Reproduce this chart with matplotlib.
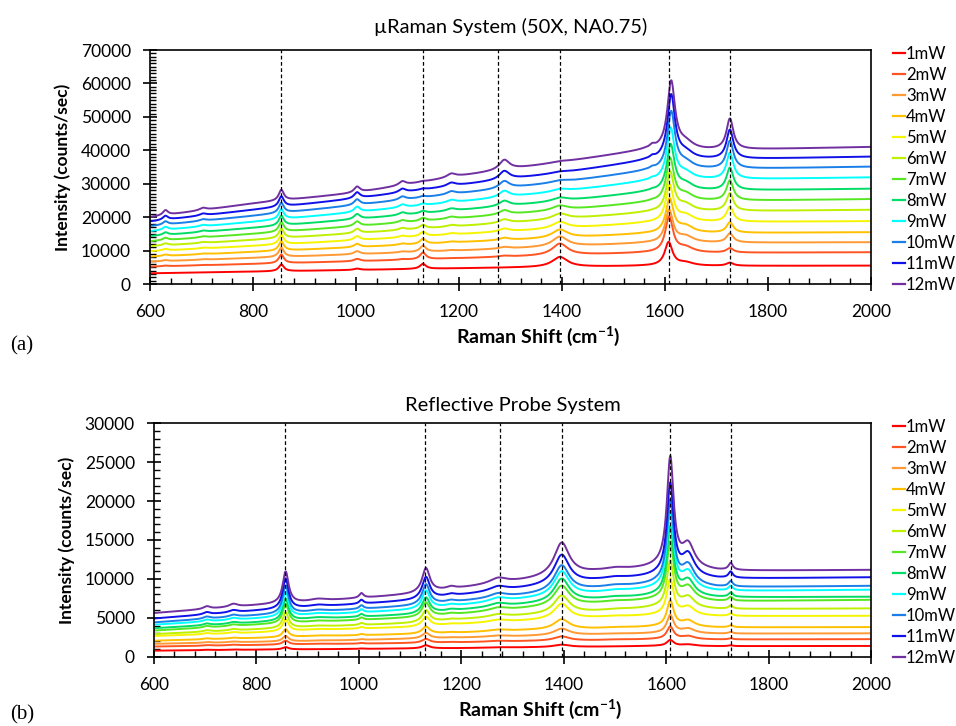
import numpy as np
import matplotlib
matplotlib.use("Agg")
import matplotlib.pyplot as plt
from matplotlib.ticker import MultipleLocator

plt.rcParams['font.family'] = ['Lato', 'DejaVu Sans']
plt.rcParams['mathtext.fontset'] = 'custom'
plt.rcParams['mathtext.rm'] = 'Lato:bold'
plt.rcParams['mathtext.bf'] = 'Lato:bold'

# ---------------- data ----------------
powers = ["1mW", "2mW", "3mW", "4mW", "5mW", "6mW", "7mW", "8mW", "9mW", "10mW", "11mW", "12mW"]
colors = ["#ff0000", "#ff5522", "#ff9933", "#ffc000", "#f5f500", "#bff000",
          "#55e822", "#00dd66", "#00ffff", "#1a7fe8", "#1010e8", "#7030a0"]
marker_lines = [855, 1130, 1275, 1396, 1608, 1726]

# (a) uRaman system -- baseline anchors (cm-1) and per-series baseline values
a_base_x = [600, 800, 1000, 1200, 1400, 1560, 1680, 2000]
a_base = [
    [3200, 3700, 4200, 4700, 5100, 5400, 5400, 5500],
    [5200, 6000, 6800, 7700, 8600, 9300, 9300, 9500],
    [6700, 7800, 8900, 10000, 11200, 12200, 12300, 12500],
    [8200, 9600, 11000, 12500, 13800, 15000, 15200, 15500],
    [9800, 11400, 13100, 14900, 16600, 18200, 18500, 18800],
    [11300, 13200, 15200, 17300, 19400, 21300, 21700, 22200],
    [12800, 15000, 17300, 19700, 22100, 24300, 24800, 25400],
    [14300, 16800, 19400, 22100, 24800, 27400, 27900, 28500],
    [15800, 18600, 21500, 24600, 27700, 30600, 31200, 31900],
    [17300, 20400, 23600, 27100, 30500, 33700, 34300, 35100],
    [18700, 22200, 25600, 29600, 33300, 36800, 37200, 38100],
    [20000, 24100, 27300, 32300, 36500, 40000, 40000, 41000],
]
# peaks: centre, half width, heights per series (1mW..12mW)
a_peak_pos = [630, 703, 855, 1002, 1090, 1130, 1185, 1288, 1396, 1575, 1640, 1726]
a_peak_hw = [6, 8, 6, 7, 8, 7, 10, 12, 18, 6, 18, 8]
a_peak_h = [
    [0, 200, 300, 400, 500, 600, 700, 800, 900, 1000, 1200, 1500],
    [0, 100, 150, 200, 250, 300, 350, 400, 450, 500, 600, 700],
    [2000, 2600, 2800, 2800, 2800, 2800, 2900, 2900, 3000, 3000, 3100, 3200],
    [400, 700, 900, 1000, 1200, 1300, 1400, 1500, 1600, 1700, 1800, 1800],
    [0, 200, 300, 400, 500, 600, 700, 800, 900, 1000, 1100, 1200],
    [1500, 2000, 1800, 1500, 1300, 1100, 900, 700, 500, 400, 300, 200],
    [0, 100, 200, 300, 400, 500, 600, 700, 800, 900, 1000, 1100],
    [0, 300, 500, 700, 900, 1100, 1300, 1600, 1900, 2200, 2600, 3000],
    [3000, 3500, 3000, 2500, 2000, 1700, 1400, 1100, 800, 600, 400, 300],
    [0, 0, 0, 0, 0, 100, 200, 300, 400, 500, 700, 900],
    [900, 1500, 1800, 2000, 2000, 2000, 2000, 2000, 2000, 2000, 2000, 2000],
    [900, 1300, 2700, 3100, 4500, 5300, 6000, 6700, 7800, 8300, 8700, 9200],
]
a_main_pos = [1607, 1608, 1608, 1609, 1609, 1610, 1610, 1611, 1611, 1612, 1612, 1612]
a_main_h = [7000, 10600, 9600, 10100, 10900, 11700, 12700, 13700, 15400, 17200, 19200, 20300]
a_main_hw = 9

# (b) reflective probe system
b_base_x = [600, 800, 900, 1100, 1200, 1330, 1460, 1580, 1700, 2000]
b_base = [
    [770, 900, 950, 1050, 1100, 1200, 1280, 1380, 1350, 1380],
    [1300, 1500, 1600, 1750, 1850, 2000, 2100, 2250, 2200, 2250],
    [1650, 1900, 2000, 2300, 2450, 2650, 2850, 3000, 2950, 3000],
    [2050, 2400, 2600, 2900, 3100, 3400, 3600, 3850, 3750, 3800],
    [2650, 3100, 3400, 3800, 4200, 4600, 5000, 5300, 5200, 5250],
    [2900, 3500, 3800, 4300, 4800, 5300, 5800, 6300, 6100, 6200],
    [3350, 4100, 4400, 5000, 5500, 6200, 6800, 7300, 7100, 7300],
    [3650, 4400, 4800, 5400, 6000, 6700, 7300, 7800, 7600, 7700],
    [4100, 4900, 5300, 6000, 6600, 7400, 8100, 8700, 8400, 8600],
    [4400, 5300, 5700, 6500, 7100, 7900, 8700, 9300, 8900, 9100],
    [4900, 5900, 6300, 7200, 7900, 8800, 9700, 10300, 10000, 10200],
    [5600, 6600, 7000, 8000, 8800, 9800, 10800, 11400, 11000, 11150],
]
b_peak_pos = [703, 755, 857, 920, 1005, 1131, 1180, 1272, 1396, 1500, 1608, 1643, 1726]
b_peak_hw = [8, 10, 7, 20, 5, 9, 10, 20, 18, 25, 8, 15, 5]
b_peak_h = [
    [50, 80, 100, 120, 150, 180, 200, 220, 250, 280, 300, 350],
    [50, 80, 100, 120, 150, 180, 200, 220, 250, 280, 300, 400],
    [300, 500, 700, 1000, 1500, 2000, 2500, 2800, 3200, 3600, 3900, 4100],
    [0, 50, 50, 80, 100, 120, 150, 180, 200, 220, 250, 300],
    [50, 80, 100, 150, 200, 250, 300, 350, 400, 450, 500, 600],
    [400, 500, 700, 900, 1200, 1500, 1800, 2000, 2300, 2600, 2800, 3100],
    [0, 50, 50, 80, 100, 120, 150, 180, 200, 220, 250, 300],
    [50, 100, 150, 200, 300, 350, 400, 450, 500, 550, 600, 700],
    [300, 550, 850, 1300, 2000, 2300, 2600, 3000, 3200, 3400, 3800, 4300],
    [0, 50, 50, 80, 100, 120, 150, 180, 200, 220, 250, 300],
    [750, 1600, 2300, 3300, 4600, 5900, 7300, 8700, 9700, 10600, 11700, 14000],
    [200, 400, 600, 800, 1100, 1400, 1700, 2000, 2200, 2500, 2800, 3000],
    [100, 150, 200, 250, 300, 400, 500, 550, 600, 700, 800, 900],
]

x = np.linspace(600, 2000, 2801)


def lor(x0, g):
    return g * g / ((x - x0) ** 2 + g * g)


def spectrum_a(i):
    y = np.interp(x, a_base_x, a_base[i])
    for p, g, h in zip(a_peak_pos, a_peak_hw, a_peak_h):
        y = y + h[i] * lor(p, g)
    y = y + a_main_h[i] * lor(a_main_pos[i], a_main_hw)
    return y


def spectrum_b(i):
    y = np.interp(x, b_base_x, b_base[i])
    for p, g, h in zip(b_peak_pos, b_peak_hw, b_peak_h):
        y = y + h[i] * lor(p, g)
    return y


# ---------------- figure ----------------
fig = plt.figure(figsize=(9.56, 7.26), dpi=100)
axA = fig.add_axes([0.1569, 0.6088, 0.7542, 0.3223])
axB = fig.add_axes([0.1611, 0.0955, 0.7500, 0.3214])

FS = 12.5


def style(ax, ymax, ystep, xlab_y):
    ax.set_xlim(600, 2000)
    ax.set_ylim(0, ymax)
    ax.xaxis.set_major_locator(MultipleLocator(200))
    ax.xaxis.set_minor_locator(MultipleLocator(40))
    ax.yaxis.set_major_locator(MultipleLocator(ystep))
    ax.yaxis.set_minor_locator(MultipleLocator(1000))
    ax.tick_params(axis='both', which='major', direction='inout', length=9.5, width=1.2,
                   labelsize=FS, top=False, right=False)
    ax.tick_params(axis='both', which='minor', direction='in', length=4.5, width=1.0,
                   top=False, right=False)
    ax.tick_params(axis='x', which='major', pad=10)
    ax.tick_params(axis='y', which='major', pad=9)
    for s in ax.spines.values():
        s.set_linewidth(1.2)
    ax.set_ylabel("Intensity (counts/sec)", fontsize=FS, fontweight='bold', labelpad=7)
    ax.set_xlabel(r"Raman Shift (cm$^{\mathbf{-1}}$)", fontsize=14, fontweight='bold')
    ax.xaxis.set_label_coords(0.538, xlab_y)
    for xv in marker_lines:
        ax.axvline(xv, color='black', lw=0.9, ls=(0, (3, 2)), zorder=5)


for i in range(12):
    axA.plot(x, spectrum_a(i), color=colors[i], lw=1.4, label=powers[i])
    axB.plot(x, spectrum_b(i), color=colors[i], lw=1.4, label=powers[i])

style(axA, 70000, 10000, -0.17)
style(axB, 30000, 5000, -0.175)

axA.set_title("µRaman System (50X, NA0.75)", fontsize=14.5, pad=12)
axB.set_title("Reflective Probe System", fontsize=14.5, pad=9)

for ax, top in ((axA, 0.937), (axB, 0.4225)):
    leg = ax.legend(loc='upper left', bbox_to_anchor=(0.934, top),
                    bbox_transform=fig.transFigure, frameon=False,
                    fontsize=12, handlelength=0.7, handletextpad=0.08,
                    labelspacing=0.30, borderpad=0, borderaxespad=0)
    for ln in leg.get_lines():
        ln.set_linewidth(1.6)

fig.text(0.011, 1 - 350 / 726, "(a)", fontsize=15, family='Liberation Serif')
fig.text(0.011, 1 - 719 / 726, "(b)", fontsize=15, family='Liberation Serif')

fig.savefig("out.png", dpi=100)
